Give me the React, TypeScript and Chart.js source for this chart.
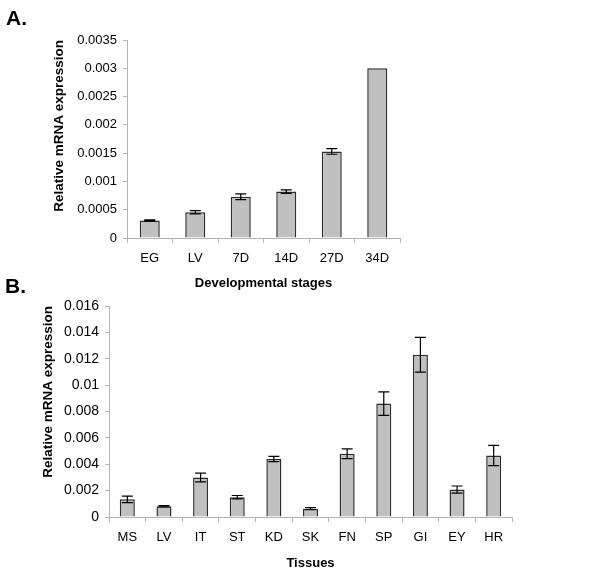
import React, { useEffect, useRef } from "react";
import { Chart, registerables } from "chart.js";

Chart.register(...registerables);

// ---- Data ----
const stageLabels = ["EG", "LV", "7D", "14D", "27D", "34D"];
const stageValues = [0.00031, 0.000455, 0.00073, 0.00082, 0.00153, 0.003];
const stageErrors = [0.00001, 0.00003, 0.00005, 0.00003, 0.00005, 0];
const stageTicks = { min: 0, max: 0.0035, step: 0.0005 };

const tissueLabels = ["MS", "LV", "IT", "ST", "KD", "SK", "FN", "SP", "GI", "EY", "HR"];
const tissueValues = [0.00134, 0.00081, 0.003, 0.0015, 0.0044, 0.00063, 0.0048, 0.0086, 0.0123, 0.00208, 0.00466];
const tissueErrors = [0.00025, 0.00005, 0.00033, 0.00013, 0.0002, 0.00008, 0.00037, 0.00089, 0.00132, 0.00027, 0.00077];
const tissueTicks = { min: 0, max: 0.016, step: 0.002 };

const FONT = "'Liberation Sans', Arial, Helvetica, sans-serif";
const AXIS_COLOR = "#b4b4b4";

type Layout = {
  width: number;
  height: number;
  padLeft: number;
  padRight: number;
  padTop: number;
  yWidth: number;
  xHeight: number;
  barPct: number;
  tickFont: number;
};

function makeErrorPlugin(errors: number[]) {
  return {
    id: "errorBars",
    afterDatasetsDraw(chart: any) {
      const meta = chart.getDatasetMeta(0);
      const yScale = chart.scales.y;
      const values = chart.data.datasets[0].data as number[];
      const ctx = chart.ctx;
      ctx.save();
      ctx.strokeStyle = "#000";
      ctx.lineWidth = 1.2;
      meta.data.forEach((el: any, i: number) => {
        const e = errors[i];
        if (!e) return;
        const v = values[i];
        const yt = yScale.getPixelForValue(v + e);
        const yb = yScale.getPixelForValue(v - e);
        const x = el.x;
        const cap = 5.5;
        ctx.beginPath();
        ctx.moveTo(x, yt);
        ctx.lineTo(x, yb);
        ctx.moveTo(x - cap, yt);
        ctx.lineTo(x + cap, yt);
        ctx.moveTo(x - cap, yb);
        ctx.lineTo(x + cap, yb);
        ctx.stroke();
      });
      ctx.restore();
    },
  };
}

function fmt(v: number) {
  return parseFloat(Number(v).toFixed(6)).toString();
}

function BarChart(props: {
  labels: string[];
  values: number[];
  errors: number[];
  ticks: { min: number; max: number; step: number };
  xTitle: string;
  layout: Layout;
}) {
  const ref = useRef<HTMLCanvasElement | null>(null);
  const { labels, values, errors, ticks, xTitle, layout } = props;
  useEffect(() => {
    if (!ref.current) return;
    const chart = new Chart(ref.current, {
      type: "bar",
      data: {
        labels,
        datasets: [
          {
            data: values,
            backgroundColor: "#c0c0c0",
            borderColor: "#2e2e2e",
            borderWidth: 1.5,
            barPercentage: layout.barPct,
            categoryPercentage: 1,
          },
        ],
      },
      options: {
        responsive: false,
        animation: false,
        layout: {
          padding: { left: layout.padLeft, right: layout.padRight, top: layout.padTop, bottom: 0 },
        },
        plugins: {
          legend: { display: false },
          tooltip: { enabled: false },
          title: { display: false },
        },
        scales: {
          x: {
            grid: {
              drawOnChartArea: false,
              drawTicks: true,
              tickLength: 5,
              color: AXIS_COLOR,
              offset: true,
            },
            border: { display: true, color: AXIS_COLOR, width: 1 },
            ticks: {
              color: "#000",
              font: { family: FONT, size: 13 },
              padding: 8,
              maxRotation: 0,
              autoSkip: false,
            },
            title: {
              display: true,
              text: xTitle,
              color: "#000",
              font: { family: FONT, size: 13, weight: "bold" },
              padding: { top: 4, bottom: 4 },
            },
            afterFit: (scale: any) => {
              scale.height = layout.xHeight;
            },
          },
          y: {
            min: ticks.min,
            max: ticks.max,
            grid: {
              drawOnChartArea: false,
              drawTicks: true,
              tickLength: 4,
              color: AXIS_COLOR,
            },
            border: { display: true, color: AXIS_COLOR, width: 1 },
            ticks: {
              stepSize: ticks.step,
              color: "#000",
              font: { family: FONT, size: layout.tickFont },
              padding: 6,
              callback: (v: any) => fmt(v),
            },
            title: {
              display: true,
              text: "Relative mRNA expression",
              align: "end",
              color: "#000",
              font: { family: FONT, size: 13.5, weight: "bold" },
              padding: { top: 4, bottom: 4 },
            },
            afterFit: (scale: any) => {
              scale.width = layout.yWidth;
            },
          },
        },
      },
      plugins: [makeErrorPlugin(errors)],
    } as any);
    return () => chart.destroy();
  }, []);
  return <canvas ref={ref} width={layout.width} height={layout.height} style={{ display: "block" }} />;
}

const layoutA: Layout = {
  width: 600,
  height: 295,
  padLeft: 47,
  padRight: 200,
  padTop: 40,
  yWidth: 80,
  xHeight: 57,
  barPct: 0.44,
  tickFont: 13,
};

const layoutB: Layout = {
  width: 600,
  height: 300,
  padLeft: 36,
  padRight: 88,
  padTop: 31,
  yWidth: 73,
  xHeight: 58,
  barPct: 0.41,
  tickFont: 14,
};

const panelLabel: React.CSSProperties = {
  position: "absolute",
  fontFamily: FONT,
  fontWeight: "bold",
  fontSize: 21,
  color: "#000",
  lineHeight: "21px",
};

export default function App() {
  return (
    <div style={{ position: "absolute", left: 0, top: 0, width: 600, height: 575, background: "#fff", overflow: "hidden" }}>
      <div style={{ position: "absolute", left: 0, top: 0 }}>
        <BarChart
          labels={stageLabels}
          values={stageValues}
          errors={stageErrors}
          ticks={stageTicks}
          xTitle="Developmental stages"
          layout={layoutA}
        />
      </div>
      <div style={{ position: "absolute", left: 0, top: 275 }}>
        <BarChart
          labels={tissueLabels}
          values={tissueValues}
          errors={tissueErrors}
          ticks={tissueTicks}
          xTitle="Tissues"
          layout={layoutB}
        />
      </div>
      <div style={{ ...panelLabel, left: 6, top: 7 }}>A.</div>
      <div style={{ ...panelLabel, left: 5, top: 275 }}>B.</div>
    </div>
  );
}
